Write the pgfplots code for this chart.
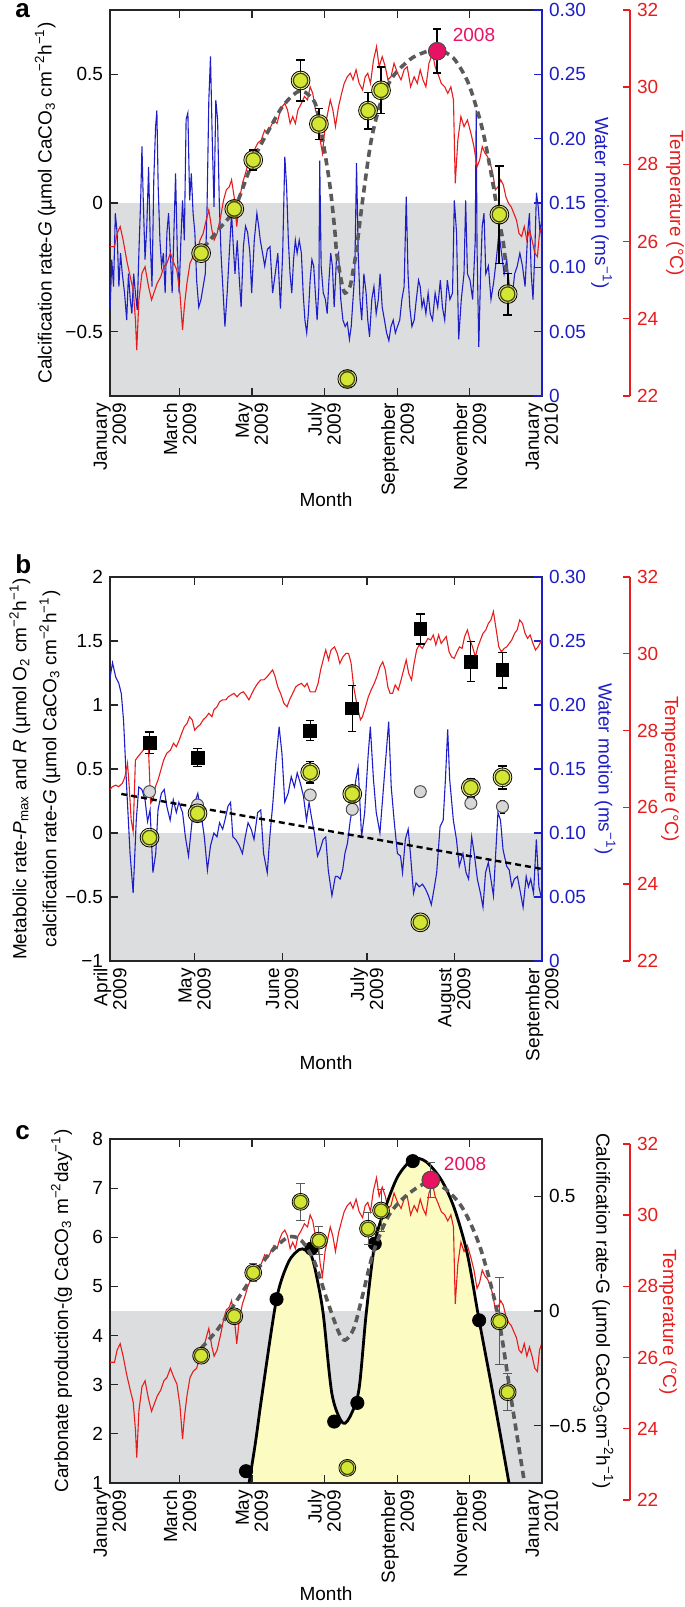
\documentclass[border=0pt]{standalone}
\usepackage{fontspec}
\setmainfont{Liberation Sans}
\usepackage{pgfplots}
\usepackage{pgfplotstable}
\pgfplotsset{compat=1.18}

\definecolor{wblue}{RGB}{30,30,200}
\definecolor{tred}{RGB}{232,28,28}
\definecolor{gfill}{RGB}{220,221,222}
\definecolor{gpt}{RGB}{212,230,52}
\definecolor{ghalo}{RGB}{228,240,70}
\definecolor{gedge}{RGB}{70,70,20}
\definecolor{mag}{RGB}{232,18,98}
\definecolor{yfill}{RGB}{252,252,194}
\definecolor{dgray}{RGB}{90,90,90}
\definecolor{rgray}{RGB}{215,215,215}

\newcommand{\fs}{\fontsize{9.5}{9.5}\selectfont}
\newcommand{\su}[1]{\textsuperscript{#1}}
\newcommand{\subs}[1]{\textsubscript{#1}}

% daily temperature (deg C), day of year 2009
\pgfplotstableread[row sep=\\]{
day T\\
0.1 25.87\\ 3.8 25.87\\ 6.0 26.21\\ 8.6 26.39\\ 11.1 26.04\\ 14.1 25.52\\ 17.1 25.09\\ 19.6 24.75\\
21.5 23.97\\ 22.6 23.19\\ 24.4 24.49\\ 27.0 25.18\\ 29.6 25.35\\ 32.6 24.83\\ 35.1 24.49\\ 37.0 24.66\\
39.9 24.92\\ 42.9 25.09\\ 45.5 25.35\\ 48.1 25.44\\ 51.0 25.70\\ 54.0 25.44\\ 56.5 25.26\\ 59.1 24.66\\
61.3 23.71\\ 62.8 24.31\\ 65.0 24.92\\ 67.6 25.44\\ 70.2 25.61\\ 73.2 25.70\\ 76.1 26.04\\ 78.7 26.21\\
81.3 26.56\\ 83.5 26.82\\ 86.1 26.30\\ 88.0 26.04\\ 90.5 26.21\\ 93.5 26.65\\ 96.0 27.08\\ 98.3 27.34\\
100.8 27.42\\ 102.7 27.60\\ 104.9 27.16\\ 107.1 26.39\\ 109.3 27.08\\ 111.9 27.51\\ 114.5 27.77\\ 116.7 28.03\\
119.3 28.20\\ 121.9 28.37\\ 124.8 28.55\\ 127.8 28.63\\ 130.7 28.89\\ 133.3 28.80\\ 135.9 28.98\\ 138.5 29.15\\
141.1 29.06\\ 143.3 29.32\\ 145.5 29.50\\ 147.7 29.58\\ 150.0 29.41\\ 152.2 29.06\\ 154.4 29.24\\ 156.6 29.06\\
158.8 29.41\\ 161.7 29.58\\ 164.3 29.76\\ 166.9 29.67\\ 169.1 30.01\\ 171.3 29.84\\ 173.6 29.41\\ 175.8 29.24\\
177.6 28.63\\ 179.5 28.29\\ 181.7 28.98\\ 183.9 29.32\\ 186.1 29.67\\ 188.3 29.41\\ 190.5 28.98\\ 193.1 29.50\\
195.7 29.84\\ 197.9 30.10\\ 200.5 30.27\\ 203.1 30.36\\ 205.3 30.19\\ 207.9 30.45\\ 210.5 30.10\\ 213.4 29.93\\
215.6 30.27\\ 217.8 30.36\\ 220.1 30.10\\ 222.6 30.70\\ 225.2 31.05\\ 227.4 30.53\\ 230.0 30.79\\ 232.6 30.53\\
234.8 30.19\\ 237.4 30.27\\ 240.0 30.62\\ 243.0 30.36\\ 245.9 30.19\\ 248.5 30.45\\ 251.1 30.53\\ 254.0 30.01\\
257.0 30.27\\ 259.6 30.10\\ 262.1 30.45\\ 264.4 30.19\\ 266.9 30.01\\ 269.5 30.62\\ 272.5 30.88\\ 274.7 30.53\\
276.9 30.36\\ 279.9 30.10\\ 282.8 30.01\\ 285.4 29.84\\ 288.0 30.01\\ 290.2 29.67\\ 291.7 27.51\\ 293.9 28.63\\
296.5 29.24\\ 299.1 28.98\\ 302.0 29.15\\ 305.0 28.80\\ 307.5 28.46\\ 310.1 27.94\\ 312.3 28.11\\ 314.5 28.46\\
316.8 28.29\\ 319.0 28.20\\ 321.2 28.03\\ 323.4 27.77\\ 325.6 27.34\\ 327.9 27.42\\ 330.1 27.60\\ 332.3 27.47\\
334.5 27.16\\ 336.7 26.99\\ 339.0 26.90\\ 341.2 26.73\\ 343.4 26.56\\ 345.6 26.21\\ 347.8 26.13\\ 350.0 26.39\\
352.2 26.04\\ 354.4 26.30\\ 356.6 26.04\\ 358.9 25.70\\ 361.1 25.61\\ 362.9 26.21\\ 364.8 26.39\\
}\tempdata

\pgfplotsset{
  panel/.style={scale only axis, width=216pt, tick align=inside, major tick length=4pt,
    axis line style={line width=0.7pt, black!85}, tick style={line width=0.6pt, black!85},
    tick label style={font=\fs}, label style={font=\fs}},
  months/.style={xtick pos=both, xticklabel style={rotate=90, anchor=east, align=right, font=\fs}},
  leftlab/.style={every axis y label/.style={at={(axis description cs:#1,0.5)}, rotate=90, anchor=center, font=\fs}},
  monthlab/.style={every axis x label/.style={at={(axis description cs:0.5,0)}, yshift=#1, anchor=center, font=\fs}},
  rightlab/.style 2 args={every axis y label/.style={at={(axis description cs:#1,0.5)}, rotate=-90, anchor=center, text=#2, font=\fs}},
  blueax/.style={panel, ymin=0, ymax=0.3, axis x line=none, axis y line*=right,
    y axis line style={wblue, line width=0.8pt}, tick style={wblue, line width=0.6pt},
    ytick={0,0.05,0.1,0.15,0.2,0.25,0.3}, yticklabels={0,0.05,0.10,0.15,0.20,0.25,0.30},
    yticklabel style={text=wblue}, ylabel={Water motion (ms\su{−1})}},
  redax/.style={scale only axis, width=260pt, ymin=22, ymax=32, axis x line=none, axis y line*=right,
    tick align=inside, major tick length=3.5pt, y axis line style={tred, line width=0.8pt},
    tick style={tred, line width=0.7pt}, ytick={22,24,26,28,30,32}, yticklabels={22,24,26,28,30,32},
    yticklabel style={text=tred, font=\fs}, ylabel={Temperature (°C)}},
  dcurve/.style={dgray, line width=1.8pt, dash pattern=on 3.6pt off 2.4pt, smooth},
  halo/.style={only marks, mark=*, mark size=4.7pt, mark options={draw=none, fill=ghalo, fill opacity=0.55}},
  gmark/.style={only marks, mark=*, mark size=3.6pt, mark options={draw=gedge, fill=gpt, line width=0.6pt}},
  ebar/.style 2 args={draw=none, mark=none, forget plot, error bars/.cd, y dir=both, y explicit,
    error bar style={draw=#1, line width=#2, solid},
    error mark options={draw=#1, rotate=90, mark size=2.1pt, line width=#2}},
}

\begin{document}
\begin{tikzpicture}
\path[use as bounding box] (0,0) rectangle (342.5pt,803.5pt);

% ================= panel a =================
\node[anchor=base west, inner sep=0pt, font=\bfseries\fontsize{13}{13}\selectfont] at (7.5pt,794.5pt) {a};

\begin{axis}[panel, months, at={(55pt,605.5pt)}, anchor=south west, height=193pt,
  xmin=0, xmax=365, ymin=-0.75, ymax=0.75, ytick pos=left, axis on top,
  xtick={0,59,120,181,243,304,365},
  xticklabels={{January\\2009},{March\\2009},{May\\2009},{July\\2009},{September\\2009},{November\\2009},{January\\2010}},
  ytick={-0.5,0,0.5}, yticklabels={−0.5,0,0.5},
  xlabel={Month}, ylabel={Calcification rate-\textit{G} (µmol CaCO\subs{3} cm\su{−2}h\su{−1})},
  leftlab=-0.15, monthlab=-52pt]
\addplot[draw=none, fill=gfill] coordinates {(0,-0.75) (0,0) (365,0) (365,-0.75)} -- cycle;
\end{axis}

\begin{axis}[blueax, at={(55pt,605.5pt)}, anchor=south west, height=193pt, xmin=0, xmax=365,
  rightlab={1.138}{wblue}]
\addplot[wblue, line width=0.55pt] coordinates {
(0.1,0.067) (1.5,0.106) (3.0,0.085) (4.5,0.142) (6.0,0.127) (7.5,0.085) (8.9,0.111) (10.4,0.095) (12.3,0.080) (14.1,0.059)
(15.6,0.095) (17.1,0.075) (18.5,0.064) (20.0,0.095) (21.5,0.080) (23.0,0.067) (24.4,0.111) (25.9,0.152) (27.0,0.194) (28.1,0.152)
(29.6,0.106) (31.1,0.132) (32.6,0.178) (34.0,0.121) (35.5,0.085) (37.0,0.168) (38.5,0.209) (39.6,0.222) (40.7,0.163) (42.2,0.121)
(43.6,0.101) (45.1,0.111) (46.6,0.080) (48.1,0.127) (49.5,0.142) (51.0,0.111) (52.5,0.080) (54.0,0.127) (55.4,0.173) (56.9,0.111)
(58.4,0.080) (59.9,0.121) (61.3,0.152) (62.8,0.121) (64.3,0.215) (65.8,0.220) (67.3,0.152) (68.7,0.173) (70.2,0.142) (71.7,0.127)
(73.2,0.090) (75.0,0.069) (76.9,0.075) (78.7,0.085) (80.5,0.095) (82.0,0.147) (83.5,0.230) (84.9,0.264) (86.4,0.199) (87.9,0.147)
(89.4,0.230) (90.9,0.215) (92.3,0.152) (93.8,0.111) (95.3,0.085) (97.1,0.054) (99.0,0.080) (100.8,0.111) (102.7,0.142) (104.2,0.116)
(105.6,0.095) (107.5,0.121) (109.3,0.090) (110.8,0.069) (112.7,0.116) (114.5,0.132) (116.3,0.127) (118.2,0.111) (119.7,0.080) (121.9,0.121)
(124.1,0.142) (125.6,0.132) (127.0,0.121) (128.9,0.111) (130.7,0.101) (133.0,0.114) (135.2,0.116) (137.4,0.080) (139.6,0.095) (141.8,0.111)
(144.0,0.068) (145.9,0.111) (147.7,0.186) (149.2,0.163) (150.7,0.121) (152.1,0.095) (153.6,0.080) (155.1,0.106) (156.6,0.121) (158.1,0.111)
(159.9,0.121) (161.7,0.111) (163.2,0.080) (164.7,0.059) (166.2,0.049) (167.6,0.064) (169.1,0.090) (170.6,0.106) (172.1,0.101) (173.5,0.080)
(175.0,0.059) (176.5,0.085) (177.2,0.183) (178.4,0.101) (180.2,0.080) (182.0,0.075) (183.5,0.064) (185.0,0.090) (186.5,0.111) (187.9,0.101)
(189.4,0.069) (191.3,0.106) (193.1,0.111) (195.0,0.075) (196.8,0.059) (198.7,0.054) (200.5,0.057) (202.3,0.044) (203.8,0.054) (205.3,0.075)
(206.8,0.095) (208.3,0.181) (209.7,0.111) (211.2,0.075) (212.7,0.059) (214.5,0.095) (216.4,0.080) (217.8,0.059) (219.3,0.046) (221.2,0.075)
(223.0,0.085) (224.9,0.064) (226.7,0.075) (228.2,0.095) (230.0,0.069) (231.9,0.059) (233.7,0.049) (235.6,0.043) (237.4,0.054) (239.3,0.059)
(241.1,0.049) (242.9,0.054) (244.8,0.059) (246.6,0.075) (248.5,0.085) (250.3,0.155) (251.8,0.095) (253.3,0.069) (255.1,0.054) (257.0,0.059)
(258.8,0.075) (260.7,0.090) (262.1,0.085) (263.6,0.069) (265.1,0.075) (266.9,0.064) (268.8,0.080) (270.6,0.064) (272.5,0.059) (274.7,0.080)
(276.9,0.069) (279.1,0.090) (280.9,0.069) (282.8,0.059) (285.0,0.090) (287.2,0.075) (289.4,0.080) (290.9,0.152) (292.8,0.127) (294.6,0.044)
(296.8,0.075) (299.1,0.095) (300.5,0.152) (302.0,0.095) (304.2,0.090) (306.4,0.075) (308.6,0.121) (309.4,0.222) (310.1,0.116) (311.6,0.038)
(313.1,0.095) (314.5,0.132) (316.0,0.142) (317.5,0.095) (319.7,0.101) (321.9,0.075) (324.1,0.088) (326.4,0.106) (328.6,0.127) (330.8,0.111)
(333.0,0.095) (335.2,0.106) (337.4,0.085) (339.6,0.075) (341.9,0.095) (344.1,0.101) (346.3,0.111) (348.5,0.101) (350.7,0.085) (352.9,0.127)
(354.4,0.142) (355.9,0.095) (357.4,0.075) (358.9,0.111) (360.3,0.158) (361.8,0.147) (363.3,0.127) (364.8,0.137)};
\end{axis}

\begin{axis}[redax, at={(55pt,605.5pt)}, anchor=south west, height=193pt, xmin=0, xmax=439.35,
  rightlab={1.0865}{tred}]
\addplot[tred, line width=0.55pt] table[x=day, y=T] {\tempdata};
\end{axis}

\begin{axis}[panel, hide axis, at={(55pt,605.5pt)}, anchor=south west, height=193pt,
  xmin=0, xmax=365, ymin=-0.75, ymax=0.75]
\addplot[dcurve] coordinates {
(78.7,-0.175) (91.6,-0.104) (105.2,-0.023) (121.2,0.168) (135.9,0.298) (145,0.37) (153.5,0.415) (160,0.435)
(165,0.43) (173.2,0.389) (178.8,0.27) (185.9,0.065) (190.1,-0.116) (191.5,-0.195) (195.8,-0.311) (198.6,-0.35)
(202.8,-0.324) (205.5,-0.26) (208,-0.19) (213.5,0.013) (220.8,0.246) (229.5,0.402) (239.3,0.493) (253.5,0.558)
(264.7,0.584) (276.6,0.597) (290,0.564) (301.4,0.48) (308.4,0.389) (315.4,0.272) (322.5,0.103) (328.1,-0.052)
(332.5,-0.16) (335,-0.27)};
\addplot[halo] coordinates {(77,-0.195) (105,-0.023) (121,0.167) (161,0.476) (176.5,0.307) (200.5,-0.684) (218,0.359) (229,0.438) (329,-0.045) (336,-0.354)};
\addplot[gmark] coordinates {(77,-0.195) (105,-0.023) (121,0.167) (161,0.476) (176.5,0.307) (200.5,-0.684) (218,0.359) (229,0.438) (329,-0.045) (336,-0.354)};
\addplot[only marks, mark=*, mark size=4.4pt, mark options={draw=black!70, fill=mag, line width=0.5pt}] coordinates {(276.5,0.59)};
\addplot[ebar={black}{0.9pt}] coordinates {
(77,-0.195) +- (0,0.025) (105,-0.023) +- (0,0.03) (121,0.167) +- (0,0.04) (161,0.476) +- (0,0.08)
(176.5,0.307) +- (0,0.06) (200.5,-0.684) +- (0,0.03) (218,0.359) +- (0,0.07) (229,0.438) +- (0,0.09)
(276.5,0.59) +- (0,0.085) (329,-0.045) +- (0,0.19) (336,-0.354) +- (0,0.08)};
\node[text=mag, font=\fs] at (axis cs:307.5,0.653) {2008};
\end{axis}

% ================= panel b =================
\node[anchor=base west, inner sep=0pt, font=\bfseries\fontsize{13}{13}\selectfont] at (7.5pt,516.5pt) {b};

\begin{axis}[panel, months, at={(55pt,323pt)}, anchor=south west, height=192pt,
  xmin=90, xmax=243, ymin=-1, ymax=2, ytick pos=left, axis on top,
  xtick={90,120,151,181,212,243},
  xticklabels={{April\\2009},{May\\2009},{June\\2009},{July\\2009},{August\\2009},{September\\2009}},
  ytick={-1,-0.5,0,0.5,1,1.5,2}, yticklabels={−1,−0.5,0,0.5,1,1.5,2},
  xlabel={Month},
  ylabel={Metabolic rate-\textit{P}\subs{max} and \textit{R} (µmol O\subs{2} cm\su{−2}h\su{−1})\\calcification rate-\textit{G} (µmol CaCO\subs{3} cm\su{−2}h\su{−1})},
  every axis y label/.style={at={(axis description cs:-0.174,0.5)}, rotate=90, anchor=center, align=center, font=\fontsize{9.5}{15}\selectfont},
  monthlab=-51pt]
\addplot[draw=none, fill=gfill] coordinates {(90,-1) (90,0) (243,0) (243,-1)} -- cycle;
\end{axis}

\begin{axis}[blueax, at={(55pt,323pt)}, anchor=south west, height=192pt, xmin=90, xmax=243,
  rightlab={1.146}{wblue}]
\addplot[wblue, line width=0.55pt] coordinates {
(89.7,0.217) (90.9,0.233) (92.0,0.222) (93.1,0.217) (94.0,0.209) (94.8,0.188) (95.9,0.136) (97.1,0.084) (98.2,0.053) (99.3,0.110)
(100.2,0.136) (101.3,0.134) (102.4,0.126) (103.3,0.109) (104.2,0.118) (105.2,0.069) (106.2,0.084) (107.0,0.118) (108.2,0.131) (109.2,0.134)
(110.1,0.121) (111.3,0.110) (112.4,0.126) (113.5,0.116) (114.4,0.124) (115.7,0.116) (116.7,0.097) (117.8,0.082) (119.1,0.110) (120.2,0.125)
(121.1,0.131) (122.2,0.116) (123.4,0.097) (124.5,0.071) (125.6,0.090) (126.8,0.100) (127.9,0.097) (128.8,0.108) (129.9,0.103) (130.7,0.110)
(131.8,0.121) (132.7,0.124) (133.5,0.097) (134.5,0.095) (135.8,0.090) (136.9,0.084) (137.9,0.097) (138.9,0.108) (140.0,0.103) (141.0,0.095)
(142.3,0.116) (143.4,0.118) (144.4,0.084) (145.7,0.069) (146.6,0.097) (147.7,0.124) (148.8,0.157) (149.9,0.183) (150.9,0.162) (151.9,0.124)
(153.1,0.131) (154.2,0.144) (155.3,0.136) (156.3,0.147) (157.4,0.139) (158.5,0.129) (159.6,0.110) (160.5,0.124) (161.3,0.113) (162.4,0.100)
(163.5,0.082) (164.4,0.087) (165.5,0.095) (166.4,0.097) (167.3,0.071) (168.6,0.051) (169.8,0.066) (170.6,0.066) (171.5,0.064) (172.4,0.071)
(173.2,0.084) (174.1,0.092) (175.1,0.110) (176.0,0.121) (177.1,0.142) (177.9,0.151) (179.1,0.097) (180.2,0.116) (181.4,0.160) (182.2,0.183)
(183.3,0.142) (184.3,0.116) (185.6,0.100) (186.7,0.131) (187.8,0.162) (188.7,0.187) (189.6,0.136) (190.7,0.108) (191.8,0.084) (192.9,0.082)
(193.6,0.069) (194.6,0.095) (195.6,0.103) (196.4,0.084) (197.5,0.053) (198.4,0.061) (199.5,0.058) (200.7,0.060) (201.8,0.056) (202.8,0.051)
(203.8,0.044) (204.9,0.058) (205.7,0.069) (206.9,0.105) (208.0,0.110) (208.8,0.142) (209.6,0.181) (210.3,0.142) (211.6,0.110) (212.7,0.095)
(213.7,0.074) (215.0,0.084) (216.1,0.069) (217.0,0.064) (218.1,0.097) (219.0,0.084) (220.1,0.064) (221.2,0.053) (222.1,0.042) (223.0,0.069)
(224.0,0.077) (224.9,0.064) (225.8,0.051) (226.6,0.084) (227.4,0.116) (228.3,0.110) (229.2,0.087) (230.5,0.074) (231.4,0.071) (232.3,0.058)
(233.2,0.064) (234.3,0.066) (235.4,0.053) (236.3,0.042) (237.4,0.066) (238.2,0.058) (239.0,0.064) (240.0,0.053) (241.0,0.095) (241.9,0.058)
(242.9,0.048)};
\end{axis}

\begin{axis}[redax, at={(55pt,323pt)}, anchor=south west, height=192pt, xmin=90, xmax=274.17,
  rightlab={1.077}{tred}]
\addplot[tred, line width=0.55pt] coordinates {
(89.7,26.45) (90.9,26.54) (92.0,26.58) (93.1,26.54) (94.4,26.63) (95.3,26.80) (96.2,27.15) (96.8,26.54) (97.5,25.67) (98.2,25.37)
(99.0,27.23) (99.9,27.32) (100.9,27.41) (101.8,27.49) (102.9,27.75) (103.6,27.58) (104.4,26.11) (105.2,26.19) (106.1,26.54) (107.0,26.71)
(108.0,26.97) (109.0,27.23) (110.1,27.41) (111.4,27.49) (112.5,27.67) (113.5,27.58) (114.5,27.75) (115.4,27.93) (116.3,28.10) (117.3,28.19)
(118.2,28.36) (119.1,28.28) (120.0,28.01) (121.0,28.10) (121.9,28.15) (123.0,28.28) (124.1,28.36) (125.0,28.45) (126.1,28.36) (126.8,28.54)
(127.9,28.62) (128.8,28.75) (129.9,28.80) (131.0,28.80) (131.9,28.88) (133.0,28.93) (133.9,28.97) (135.0,28.88) (136.1,28.97) (137.2,29.01)
(138.1,28.93) (139.2,28.80) (140.3,28.97) (141.2,29.10) (142.3,29.23) (143.4,29.32) (144.5,29.32) (145.6,29.40) (146.6,29.49) (147.6,29.58)
(148.5,29.40) (149.4,29.14) (150.4,28.97) (151.6,28.71) (152.7,28.62) (153.6,28.80) (154.7,28.97) (155.8,29.14) (156.7,29.19) (157.8,29.23)
(158.9,29.14) (159.8,29.23) (160.9,29.01) (161.8,29.01) (162.7,29.01) (163.7,29.23) (164.6,29.58) (165.5,29.84) (166.4,30.10) (167.4,29.84)
(168.3,30.10) (169.5,30.18) (170.5,30.01) (171.4,29.75) (172.5,29.92) (173.6,30.01) (174.5,30.01) (175.4,29.75) (176.3,29.14) (177.6,28.62)
(178.7,28.28) (179.4,28.36) (180.5,28.62) (181.5,28.88) (182.5,29.06) (183.6,29.23) (184.5,29.40) (185.6,29.66) (186.6,29.79) (187.5,29.58)
(188.4,29.14) (189.2,28.97) (190.1,28.97) (191.0,29.19) (192.1,29.06) (193.1,29.32) (194.0,29.58) (194.9,29.84) (195.8,29.49) (196.8,29.32)
(197.7,29.75) (198.6,30.10) (199.5,30.23) (200.6,30.14) (201.6,30.27) (202.6,30.40) (203.6,30.36) (204.5,30.49) (205.4,30.23) (206.4,30.49)
(207.3,30.27) (208.2,30.36) (209.1,30.45) (210.1,30.05) (211.0,29.92) (211.9,29.88) (212.9,30.05) (213.8,30.18) (214.7,30.14) (215.6,30.45)
(216.6,30.62) (217.5,30.36) (218.4,30.18) (219.4,29.92) (220.3,30.18) (221.2,30.36) (222.1,30.53) (223.1,30.62) (224.0,30.79) (224.9,30.88)
(225.8,31.10) (226.8,30.62) (227.7,30.18) (228.6,30.05) (229.6,30.14) (230.5,30.18) (231.4,30.27) (232.3,30.36) (233.3,30.53) (234.2,30.62)
(235.1,30.88) (236.1,30.79) (237.0,30.53) (237.9,30.40) (238.8,30.49) (239.8,30.27) (240.7,30.10) (241.6,30.18) (242.9,30.36)};
\end{axis}

\begin{axis}[panel, hide axis, at={(55pt,323pt)}, anchor=south west, height=192pt,
  xmin=90, xmax=243, ymin=-1, ymax=2]
\addplot[black, line width=1.2pt, dash pattern=on 3pt off 2pt] coordinates {(94,0.305) (243,-0.281)};
% Pmax
\addplot[only marks, mark=square*, mark size=3.2pt, mark options={fill=black}] coordinates {
(104,0.706) (121,0.588) (160.9,0.80) (175.8,0.974) (199.9,1.594) (217.8,1.339) (229,1.273)};
\addplot[ebar={black}{0.6pt}] coordinates {
(104,0.706) +- (0,0.083) (121,0.588) +- (0,0.07) (160.9,0.80) +- (0,0.08) (175.8,0.974) +- (0,0.18)
(199.9,1.594) +- (0,0.117) (217.8,1.339) +- (0,0.154) (229,1.273) +- (0,0.14)};
% R
\addplot[only marks, mark=*, mark size=3pt, mark options={draw=black!70, fill=rgray, line width=0.5pt}] coordinates {
(104,0.323) (121,0.219) (160.9,0.297) (175.8,0.185) (199.9,0.323) (217.8,0.232) (229,0.206)};
\addplot[draw=none, mark=none, forget plot, error bars/.cd, y dir=both, y explicit,
  error bar style={draw=black, line width=0.6pt, solid},
  error mark options={draw=black, rotate=90, mark size=1.4pt, line width=0.6pt}] coordinates {
(104,0.323) +- (0,0.035) (121,0.219) +- (0,0.035) (160.9,0.297) +- (0,0.03) (175.8,0.185) +- (0,0.02)
(199.9,0.323) +- (0,0.035) (217.8,0.232) +- (0,0.035) (229,0.206) +- (0,0.05)};
% G
\addplot[halo] coordinates {(104,-0.036) (121,0.154) (160.9,0.474) (175.8,0.305) (199.9,-0.698) (217.8,0.354) (229,0.435)};
\addplot[gmark] coordinates {(104,-0.036) (121,0.154) (160.9,0.474) (175.8,0.305) (199.9,-0.698) (217.8,0.354) (229,0.435)};
\addplot[ebar={black}{0.9pt}] coordinates {
(104,-0.036) +- (0,0.02) (121,0.154) +- (0,0.06) (160.9,0.474) +- (0,0.085) (175.8,0.305) +- (0,0.06)
(199.9,-0.698) +- (0,0.03) (217.8,0.354) +- (0,0.07) (229,0.435) +- (0,0.09)};
\end{axis}

% ================= panel c =================
\node[anchor=base west, inner sep=0pt, font=\bfseries\fontsize{13}{13}\selectfont] at (7.5pt,233.5pt) {c};

\begin{axis}[panel, months, at={(55pt,62pt)}, anchor=south west, height=172pt,
  xmin=0, xmax=365, ymin=1, ymax=8, ytick pos=left, axis on top,
  xtick={0,59,120,181,243,304,365},
  xticklabels={{January\\2009},{March\\2009},{May\\2009},{July\\2009},{September\\2009},{November\\2009},{January\\2010}},
  ytick={1,2,3,4,5,6,7,8}, yticklabels={1,2,3,4,5,6,7,8},
  xlabel={Month}, ylabel={Carbonate production-(g CaCO\subs{3} m\su{−2}day\su{−1})},
  leftlab=-0.112, monthlab=-55.5pt]
\addplot[draw=none, fill=gfill] coordinates {(0,1) (0,4.5) (365,4.5) (365,1)} -- cycle;
\addplot[draw=none, fill=yfill, smooth] coordinates {
(117.5,1.0) (123,1.84) (128.5,2.80) (140.7,4.74) (150.7,5.49) (159.9,5.75) (165,5.74) (170.2,5.62) (174.7,5.19)
(180.2,4.43) (187.6,2.80) (196.8,2.22) (204.2,2.42) (210.5,2.93) (216.4,4.43) (223.7,5.87) (231.9,6.55) (243,7.23)
(255.8,7.59) (266.9,7.54) (279.9,7.17) (290.9,6.59) (301.9,5.66) (311.9,4.31) (324.2,2.73) (337.1,1.0)} -- cycle;
\end{axis}

\begin{axis}[redax, at={(55pt,53.5pt)}, anchor=south west, height=178pt, xmin=0, xmax=439.35,
  rightlab={1.073}{tred}]
\addplot[tred, line width=0.55pt] table[x=day, y=T] {\tempdata};
\end{axis}

\begin{axis}[panel, hide axis, at={(55pt,62pt)}, anchor=south west, height=172pt,
  xmin=0, xmax=365, ymin=1, ymax=8]
\addplot[black, line width=1.4pt, smooth] coordinates {
(117.5,1.0) (123,1.84) (128.5,2.80) (140.7,4.74) (150.7,5.49) (159.9,5.75) (165,5.74) (170.2,5.62) (174.7,5.19)
(180.2,4.43) (187.6,2.80) (196.8,2.22) (204.2,2.42) (210.5,2.93) (216.4,4.43) (223.7,5.87) (231.9,6.55) (243,7.23)
(255.8,7.59) (266.9,7.54) (279.9,7.17) (290.9,6.59) (301.9,5.66) (311.9,4.31) (324.2,2.73) (337.1,1.0)};
\addplot[only marks, mark=*, mark size=3.3pt, mark options={fill=black}] coordinates {
(114.9,1.24) (140.7,4.74) (170.2,5.77) (189.4,2.25) (209,2.63) (223.7,5.87) (255.8,7.55) (311.9,4.31)};
\end{axis}

\begin{axis}[panel, at={(55pt,62pt)}, anchor=south west, height=172pt,
  xmin=0, xmax=365, ymin=-0.75, ymax=0.75, axis x line=none, axis y line*=right,
  ytick={-0.5,0,0.5}, yticklabels={−0.5,0,0.5},
  ylabel={Calcification rate-G (µmol CaCO\subs{3}cm\su{−2}h\su{−1})}, rightlab={1.141}{black}]
\addplot[dcurve] coordinates {
(76.9,-0.163) (91.6,-0.076) (106.4,0.04) (121.2,0.155) (135.9,0.257) (150.7,0.322) (161.7,0.307) (172.8,0.213)
(183.9,0.04) (193.1,-0.091) (198.6,-0.127) (206,-0.076) (213.4,0.068) (222.6,0.257) (235.5,0.416) (250.3,0.503)
(268.8,0.561) (283.5,0.532) (298.3,0.445) (313.1,0.272) (327.8,-0.019) (338.9,-0.381) (350,-0.743)};
\addplot[halo, mark size=4.2pt] coordinates {(77,-0.195) (105,-0.023) (121,0.167) (161,0.476) (176.5,0.307) (200.5,-0.684) (218,0.359) (229,0.438) (329,-0.045) (336,-0.354)};
\addplot[gmark, mark size=3.3pt] coordinates {(77,-0.195) (105,-0.023) (121,0.167) (161,0.476) (176.5,0.307) (200.5,-0.684) (218,0.359) (229,0.438) (329,-0.045) (336,-0.354)};
\addplot[only marks, mark=*, mark size=4.4pt, mark options={draw=black!70, fill=mag, line width=0.5pt}] coordinates {(271,0.571)};
\addplot[ebar={dgray}{0.5pt}] coordinates {
(77,-0.195) +- (0,0.025) (105,-0.023) +- (0,0.03) (121,0.167) +- (0,0.04) (161,0.476) +- (0,0.08)
(176.5,0.307) +- (0,0.06) (200.5,-0.684) +- (0,0.03) (218,0.359) +- (0,0.07) (229,0.438) +- (0,0.09)
(271,0.571) +- (0,0.076) (329,-0.045) +- (0,0.19) (336,-0.354) +- (0,0.08)};
\node[text=mag, font=\fs] at (axis cs:300,0.642) {2008};
\end{axis}
\end{tikzpicture}
\end{document}
